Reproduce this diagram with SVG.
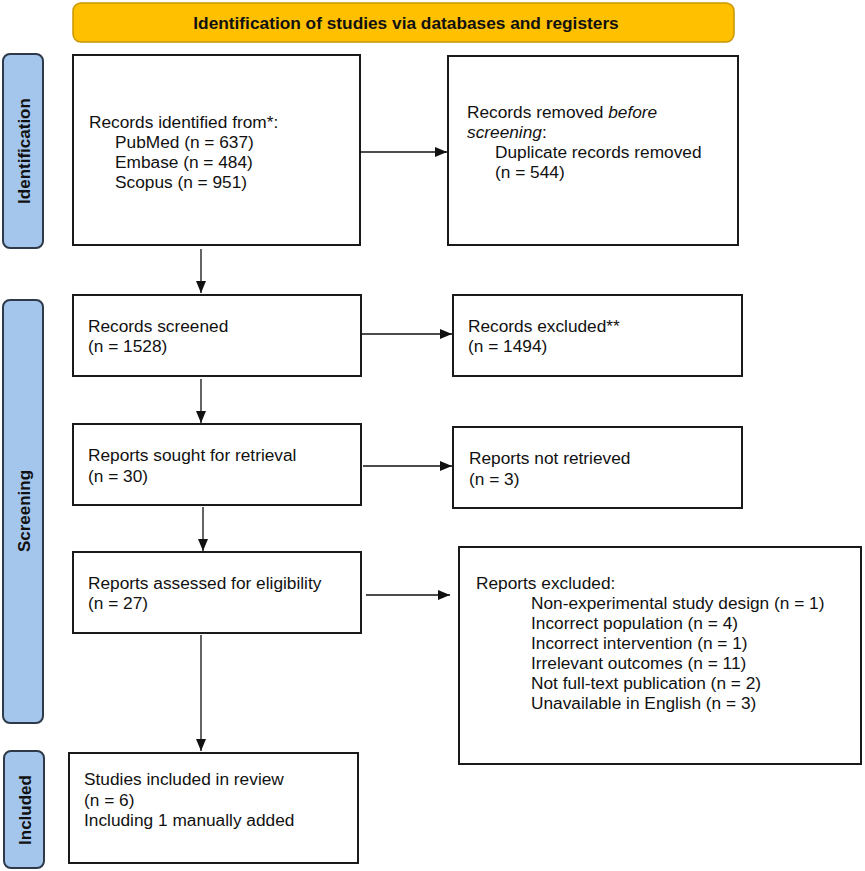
<svg xmlns="http://www.w3.org/2000/svg" width="865" height="871" viewBox="0 0 865 871">
<style>
.box{fill:#fff;stroke:#1a1a1a;stroke-width:2}
.bar{fill:#a4c6ec;stroke:#2e3a4a;stroke-width:2}
.t{font-family:"Liberation Sans",Arial,sans-serif;font-size:17.3px;fill:#111}
.side{font-family:"Liberation Sans",Arial,sans-serif;font-size:17px;font-weight:bold;fill:#111;text-anchor:middle}
.conn{stroke:#111;stroke-width:1.3;fill:none;marker-end:url(#ah)}
</style>
<defs>
<marker id="ah" viewBox="0 0 12 10" refX="12" refY="5" markerWidth="12" markerHeight="10" markerUnits="userSpaceOnUse" orient="auto">
<path d="M0,0 L12,5 L0,10 Z" fill="#111"/>
</marker>
</defs>
<rect width="865" height="871" fill="#fff"/>
<g id="title">
<rect x="73" y="3" width="661" height="39" rx="8" fill="#ffc000" stroke="#c99700" stroke-width="1.5"/>
<text x="406" y="29" class="t" font-size="17.5" font-weight="bold" text-anchor="middle">Identification of studies via databases and registers</text>
</g>
<g id="bar-identification">
<rect x="3" y="54" width="40" height="194" rx="7" class="bar"/>
<text class="side" transform="translate(30,151) rotate(-90)">Identification</text>
</g>
<g id="bar-screening">
<rect x="3" y="300" width="40" height="423" rx="7" class="bar"/>
<text class="side" transform="translate(30,511) rotate(-90)">Screening</text>
</g>
<g id="bar-included">
<rect x="4" y="751" width="40" height="117" rx="7" class="bar"/>
<text class="side" transform="translate(31,810) rotate(-90)">Included</text>
</g>
<g id="n1">
<rect x="73" y="55" width="287" height="190" class="box"/>
<text class="t" x="89" y="128">Records identified from*:</text>
<text class="t" x="115" y="148">PubMed (n = 637)</text>
<text class="t" x="115" y="168">Embase (n = 484)</text>
<text class="t" x="115" y="188">Scopus (n = 951)</text>
</g>
<g id="n2">
<rect x="448" y="56" width="290" height="189" class="box"/>
<text class="t" x="467" y="118">Records removed <tspan font-style="italic">before</tspan></text>
<text class="t" x="467" y="138"><tspan font-style="italic">screening</tspan>:</text>
<text class="t" x="495" y="158">Duplicate records removed</text>
<text class="t" x="495" y="178">(n = 544)</text>
</g>
<g id="n3">
<rect x="73" y="295" width="288" height="81" class="box"/>
<text class="t" x="88" y="332">Records screened</text>
<text class="t" x="88" y="352">(n = 1528)</text>
</g>
<g id="n4">
<rect x="453" y="295" width="289" height="81" class="box"/>
<text class="t" x="468" y="332">Records excluded**</text>
<text class="t" x="468" y="352">(n = 1494)</text>
</g>
<g id="n5">
<rect x="73" y="424" width="288" height="81" class="box"/>
<text class="t" x="88" y="461">Reports sought for retrieval</text>
<text class="t" x="88" y="482">(n = 30)</text>
</g>
<g id="n6">
<rect x="453" y="427" width="289" height="81" class="box"/>
<text class="t" x="469" y="464">Reports not retrieved</text>
<text class="t" x="469" y="485">(n = 3)</text>
</g>
<g id="n7">
<rect x="73" y="552" width="288" height="81" class="box"/>
<text class="t" x="88" y="589">Reports assessed for eligibility</text>
<text class="t" x="88" y="609">(n = 27)</text>
</g>
<g id="n8">
<rect x="459" y="547" width="402" height="217" class="box"/>
<text class="t" x="476" y="589">Reports excluded:</text>
<text class="t" x="531" y="609">Non-experimental study design (n = 1)</text>
<text class="t" x="531" y="629">Incorrect population (n = 4)</text>
<text class="t" x="531" y="649">Incorrect intervention (n = 1)</text>
<text class="t" x="531" y="669">Irrelevant outcomes (n = 11)</text>
<text class="t" x="531" y="689">Not full-text publication (n = 2)</text>
<text class="t" x="531" y="709">Unavailable in English (n = 3)</text>
</g>
<g id="n9">
<rect x="69" y="753" width="289" height="110" class="box"/>
<text class="t" x="84" y="785">Studies included in review</text>
<text class="t" x="84" y="806">(n = 6)</text>
<text class="t" x="84" y="826">Including 1 manually added</text>
</g>
<g id="connectors">
<line class="conn" x1="201" y1="249" x2="201" y2="293"/>
<line class="conn" x1="360" y1="152" x2="447" y2="152"/>
<line class="conn" x1="361" y1="334" x2="452" y2="334"/>
<line class="conn" x1="201" y1="379" x2="201" y2="423"/>
<line class="conn" x1="363" y1="466" x2="452" y2="466"/>
<line class="conn" x1="203" y1="507" x2="203" y2="551"/>
<line class="conn" x1="366" y1="595" x2="450" y2="595"/>
<line class="conn" x1="201" y1="635" x2="201" y2="751"/>
</g>
</svg>
